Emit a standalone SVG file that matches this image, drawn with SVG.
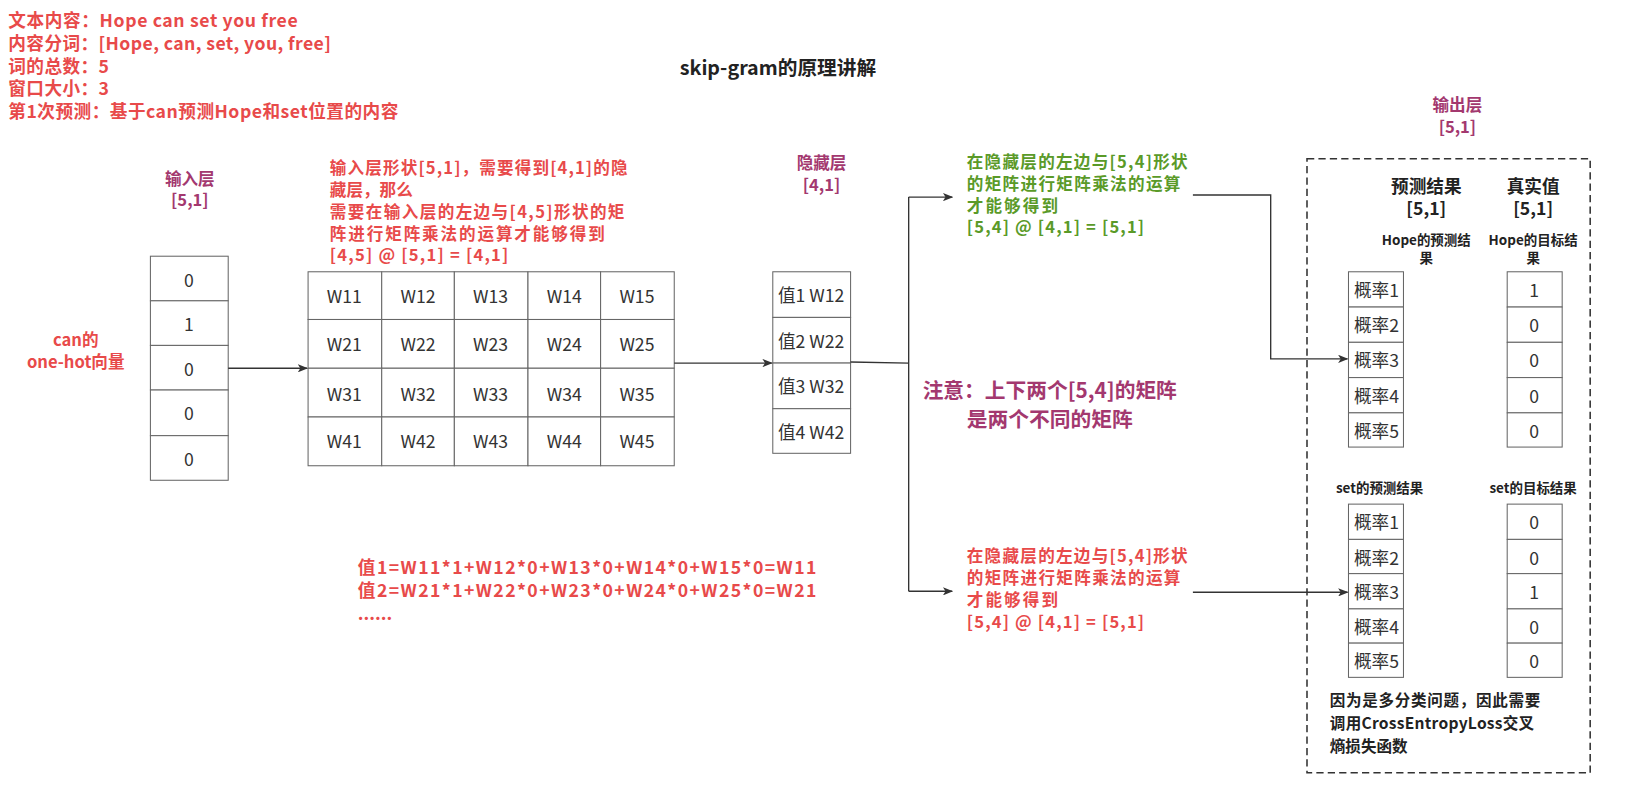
<svg xmlns="http://www.w3.org/2000/svg" width="1625" height="788" viewBox="0 0 1625 788">
<defs>
<marker id="ah" markerWidth="10" markerHeight="8" refX="9" refY="4" orient="auto" markerUnits="userSpaceOnUse"><path d="M0,0 L10,4 L0,8 L2.5,4 Z" fill="#333"/></marker>
<style>
text{font-family:"Noto Sans CJK SC","Noto Sans",sans-serif}
.r{fill:#E84A4A;font-weight:bold;font-size:17px}
.p{fill:#A3386F;font-weight:bold;font-size:16px;text-anchor:middle}
.g{fill:#5A9A28;font-weight:bold;font-size:16px}
.rb{fill:#E84A4A;font-weight:bold;font-size:16px}
.c{fill:#333;font-size:17px;text-anchor:middle;dominant-baseline:central}
.cell{fill:#fff;stroke:#666;stroke-width:1}
.h{fill:#222;font-weight:bold;font-size:17px;text-anchor:middle}
.s{fill:#222;font-weight:bold;font-size:13px;text-anchor:middle}
.ln{fill:none;stroke:#333;stroke-width:1.3}
</style>
</defs>
<rect width="1625" height="788" fill="#fff"/>
<g transform="scale(1.0373)">
<g id="info">
<text class="r" x="8" y="26" textLength="279" lengthAdjust="spacing">文本内容：Hope can set you free</text>
<text class="r" x="8" y="48" textLength="311" lengthAdjust="spacing">内容分词：[Hope, can, set, you, free]</text>
<text class="r" x="8" y="70" textLength="97" lengthAdjust="spacing">词的总数：5</text>
<text class="r" x="8" y="92" textLength="97" lengthAdjust="spacing">窗口大小：3</text>
<text class="r" x="8" y="114" textLength="376" lengthAdjust="spacing">第1次预测：基于can预测Hope和set位置的内容</text>
</g>
<text id="title" x="750" y="72" font-size="19" font-weight="bold" fill="#222" text-anchor="middle">skip-gram的原理讲解</text>
<g id="input">
<text class="p" x="183" y="178">输入层</text><text class="p" x="183" y="199">[5,1]</text>
<text class="rb" x="73" y="334" text-anchor="middle" font-size="15">can的</text>
<text class="rb" x="73" y="355" text-anchor="middle" font-size="15">one-hot向量</text>
<rect class="cell" x="145" y="247" width="75" height="43"/><text class="c" x="182" y="269">0</text>
<rect class="cell" x="145" y="290" width="75" height="43"/><text class="c" x="182" y="312">1</text>
<rect class="cell" x="145" y="333" width="75" height="43"/><text class="c" x="182" y="355">0</text>
<rect class="cell" x="145" y="376" width="75" height="44"/><text class="c" x="182" y="398">0</text>
<rect class="cell" x="145" y="420" width="75" height="43"/><text class="c" x="182" y="442">0</text>
</g>
<g id="weights">
<text class="rb" x="318" y="168" textLength="287" lengthAdjust="spacing">输入层形状[5,1]，需要得到[4,1]的隐</text>
<text class="rb" x="318" y="189">藏层，那么</text>
<text class="rb" x="318" y="210" textLength="284" lengthAdjust="spacing">需要在输入层的左边与[4,5]形状的矩</text>
<text class="rb" x="318" y="231" textLength="265" lengthAdjust="spacing">阵进行矩阵乘法的运算才能够得到</text>
<text class="rb" x="318" y="252" textLength="172" lengthAdjust="spacing">[4,5] @ [5,1] = [4,1]</text>
<g>
<rect class="cell" x="297" y="262" width="71" height="46"/><text class="c" x="332" y="285">W11</text>
<rect class="cell" x="368" y="262" width="70" height="46"/><text class="c" x="403" y="285">W12</text>
<rect class="cell" x="438" y="262" width="71" height="46"/><text class="c" x="473" y="285">W13</text>
<rect class="cell" x="509" y="262" width="70" height="46"/><text class="c" x="544" y="285">W14</text>
<rect class="cell" x="579" y="262" width="71" height="46"/><text class="c" x="614" y="285">W15</text>
<rect class="cell" x="297" y="308" width="71" height="47"/><text class="c" x="332" y="331">W21</text>
<rect class="cell" x="368" y="308" width="70" height="47"/><text class="c" x="403" y="331">W22</text>
<rect class="cell" x="438" y="308" width="71" height="47"/><text class="c" x="473" y="331">W23</text>
<rect class="cell" x="509" y="308" width="70" height="47"/><text class="c" x="544" y="331">W24</text>
<rect class="cell" x="579" y="308" width="71" height="47"/><text class="c" x="614" y="331">W25</text>
<rect class="cell" x="297" y="355" width="71" height="47"/><text class="c" x="332" y="379">W31</text>
<rect class="cell" x="368" y="355" width="70" height="47"/><text class="c" x="403" y="379">W32</text>
<rect class="cell" x="438" y="355" width="71" height="47"/><text class="c" x="473" y="379">W33</text>
<rect class="cell" x="509" y="355" width="70" height="47"/><text class="c" x="544" y="379">W34</text>
<rect class="cell" x="579" y="355" width="71" height="47"/><text class="c" x="614" y="379">W35</text>
<rect class="cell" x="297" y="402" width="71" height="47"/><text class="c" x="332" y="425">W41</text>
<rect class="cell" x="368" y="402" width="70" height="47"/><text class="c" x="403" y="425">W42</text>
<rect class="cell" x="438" y="402" width="71" height="47"/><text class="c" x="473" y="425">W43</text>
<rect class="cell" x="509" y="402" width="70" height="47"/><text class="c" x="544" y="425">W44</text>
<rect class="cell" x="579" y="402" width="71" height="47"/><text class="c" x="614" y="425">W45</text>
</g>
</g>
<g id="hidden">
<text class="p" x="792" y="163">隐藏层</text><text class="p" x="792" y="184">[4,1]</text>
<rect class="cell" x="745" y="262" width="75" height="44"/><text class="c" x="782" y="284">值1 W12</text>
<rect class="cell" x="745" y="306" width="75" height="44"/><text class="c" x="782" y="328">值2 W22</text>
<rect class="cell" x="745" y="350" width="75" height="44"/><text class="c" x="782" y="372">值3 W32</text>
<rect class="cell" x="745" y="394" width="75" height="43"/><text class="c" x="782" y="416">值4 W42</text>
</g>
<g id="notes">
<text class="g" x="932" y="162" textLength="213" lengthAdjust="spacing">在隐藏层的左边与[5,4]形状</text>
<text class="g" x="932" y="183" textLength="206" lengthAdjust="spacing">的矩阵进行矩阵乘法的运算</text>
<text class="g" x="932" y="204" textLength="88" lengthAdjust="spacing">才能够得到</text>
<text class="g" x="932" y="225" textLength="171" lengthAdjust="spacing">[5,4] @ [4,1] = [5,1]</text>
<text class="rb" x="932" y="542" textLength="213" lengthAdjust="spacing">在隐藏层的左边与[5,4]形状</text>
<text class="rb" x="932" y="563" textLength="206" lengthAdjust="spacing">的矩阵进行矩阵乘法的运算</text>
<text class="rb" x="932" y="584" textLength="88" lengthAdjust="spacing">才能够得到</text>
<text class="rb" x="932" y="605" textLength="171" lengthAdjust="spacing">[5,4] @ [4,1] = [5,1]</text>
<text x="1012" y="384" font-size="20" font-weight="bold" fill="#A3386F" text-anchor="middle">注意：上下两个[5,4]的矩阵</text>
<text x="1012" y="412" font-size="20" font-weight="bold" fill="#A3386F" text-anchor="middle">是两个不同的矩阵</text>
<text class="r" x="345" y="553" textLength="442" lengthAdjust="spacing">值1=W11*1+W12*0+W13*0+W14*0+W15*0=W11</text>
<text class="r" x="345" y="576" textLength="442" lengthAdjust="spacing">值2=W21*1+W22*0+W23*0+W24*0+W25*0=W21</text>
<text class="r" x="345" y="598">......</text>
</g>
<g id="output">
<text class="p" x="1405" y="107">输出层</text><text class="p" x="1405" y="128">[5,1]</text>
<rect x="1260" y="153" width="273" height="592" fill="none" stroke="#333" stroke-width="1.5" stroke-dasharray="7,4"/>
<text class="h" x="1375" y="186">预测结果</text><text class="h" x="1375" y="207">[5,1]</text>
<text class="h" x="1478" y="186">真实值</text><text class="h" x="1478" y="207">[5,1]</text>
<text class="s" x="1375" y="236">Hope的预测结</text><text class="s" x="1375" y="254">果</text>
<text class="s" x="1478" y="236">Hope的目标结</text><text class="s" x="1478" y="254">果</text>
<rect class="cell" x="1300" y="262" width="53" height="34"/><text class="c" x="1327" y="279" font-size="15">概率1</text>
<rect class="cell" x="1300" y="296" width="53" height="34"/><text class="c" x="1327" y="313" font-size="15">概率2</text>
<rect class="cell" x="1300" y="330" width="53" height="34"/><text class="c" x="1327" y="347" font-size="15">概率3</text>
<rect class="cell" x="1300" y="364" width="53" height="34"/><text class="c" x="1327" y="381" font-size="15">概率4</text>
<rect class="cell" x="1300" y="398" width="53" height="33"/><text class="c" x="1327" y="415" font-size="15">概率5</text>
<rect class="cell" x="1453" y="262" width="53" height="34"/><text class="c" x="1479" y="279">1</text>
<rect class="cell" x="1453" y="296" width="53" height="34"/><text class="c" x="1479" y="313">0</text>
<rect class="cell" x="1453" y="330" width="53" height="34"/><text class="c" x="1479" y="347">0</text>
<rect class="cell" x="1453" y="364" width="53" height="34"/><text class="c" x="1479" y="381">0</text>
<rect class="cell" x="1453" y="398" width="53" height="33"/><text class="c" x="1479" y="415">0</text>
<text class="s" x="1330" y="475">set的预测结果</text>
<text class="s" x="1478" y="475">set的目标结果</text>
<rect class="cell" x="1300" y="486" width="53" height="34"/><text class="c" x="1327" y="503" font-size="15">概率1</text>
<rect class="cell" x="1300" y="520" width="53" height="33"/><text class="c" x="1327" y="537" font-size="15">概率2</text>
<rect class="cell" x="1300" y="553" width="53" height="34"/><text class="c" x="1327" y="570" font-size="15">概率3</text>
<rect class="cell" x="1300" y="587" width="53" height="33"/><text class="c" x="1327" y="604" font-size="15">概率4</text>
<rect class="cell" x="1300" y="620" width="53" height="33"/><text class="c" x="1327" y="637" font-size="15">概率5</text>
<rect class="cell" x="1453" y="486" width="53" height="34"/><text class="c" x="1479" y="503">0</text>
<rect class="cell" x="1453" y="520" width="53" height="33"/><text class="c" x="1479" y="537">0</text>
<rect class="cell" x="1453" y="553" width="53" height="34"/><text class="c" x="1479" y="570">1</text>
<rect class="cell" x="1453" y="587" width="53" height="33"/><text class="c" x="1479" y="604">0</text>
<rect class="cell" x="1453" y="620" width="53" height="33"/><text class="c" x="1479" y="637">0</text>
<text x="1282" y="681" font-size="15" font-weight="bold" fill="#222" textLength="203" lengthAdjust="spacing">因为是多分类问题，因此需要</text>
<text x="1282" y="703" font-size="15" font-weight="bold" fill="#222" textLength="197" lengthAdjust="spacing">调用CrossEntropyLoss交叉</text>
<text x="1282" y="725" font-size="15" font-weight="bold" fill="#222">熵损失函数</text>
</g>
<g id="connectors">
<path class="ln" d="M220,355 L296,355" marker-end="url(#ah)"/>
<path class="ln" d="M650,350 L744,350" marker-end="url(#ah)"/>
<path class="ln" d="M820,349 L876,350"/>
<path class="ln" d="M876,190 L876,570"/>
<path class="ln" d="M876,190 L918,190" marker-end="url(#ah)"/>
<path class="ln" d="M876,570 L918,570" marker-end="url(#ah)"/>
<path class="ln" d="M1150,188 L1225,188 L1225,346 L1299,346" marker-end="url(#ah)"/>
<path class="ln" d="M1150,571 L1299,571" marker-end="url(#ah)"/>
</g>
</g>
</svg>
